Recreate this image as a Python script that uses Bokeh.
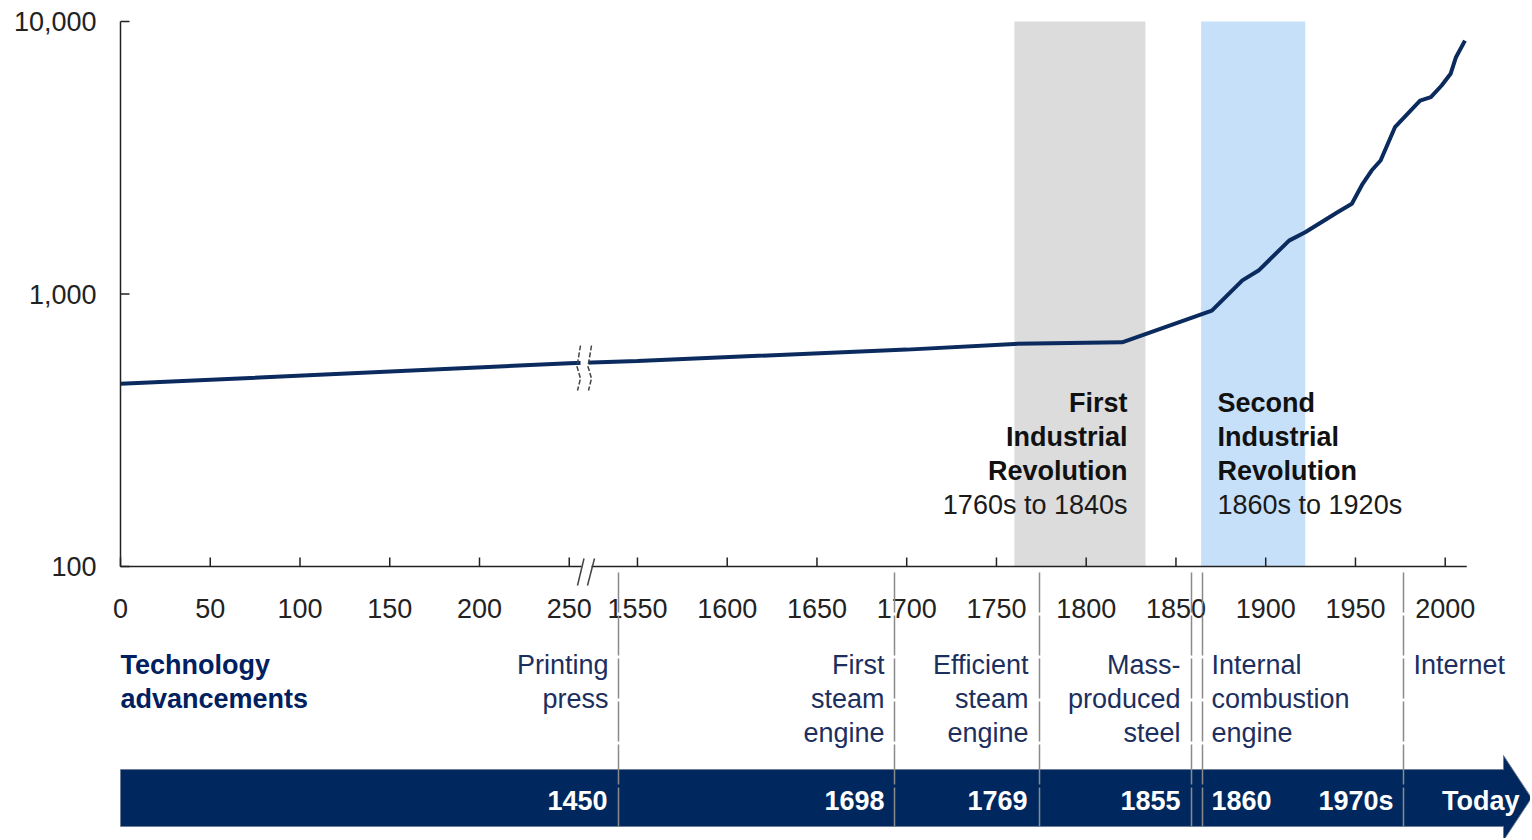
from bokeh.plotting import figure
from bokeh.models import Range1d, LinearScale
from bokeh.core.properties import value
from bokeh.embed import file_html
from bokeh.resources import INLINE

# ---------------- data ----------------
years = [0, 250, 1550, 1700, 1760, 1820, 1870, 1887, 1896, 1913, 1922, 1931, 1940,
         1948, 1954, 1959, 1964, 1972, 1979, 1986, 1992, 1998, 2003, 2006, 2011]
gdp = [468, 557, 568, 625, 656, 665, 869, 1122, 1219, 1570, 1686, 1834, 1995,
       2143, 2537, 2839, 3090, 4094, 4584, 5126, 5275, 5822, 6429, 7396, 8511]

tick_years = [0, 50, 100, 150, 200, 250, 1550, 1600, 1650, 1700, 1750, 1800, 1850, 1900, 1950, 2000]
tick_labels = [str(t) for t in tick_years]
y_ticks = [100, 1000, 10000]
y_tick_labels = [f"{v:,}" for v in y_ticks]

band_start = [1760, 1864]
band_end = [1833, 1922]
band_colors = ["#dcdcdc", "#c6e0f9"]

band_titles = [["First", "Industrial", "Revolution"], ["Second", "Industrial", "Revolution"]]
band_periods = ["1760s to 1840s", "1860s to 1920s"]

tech_header = ["Technology", "advancements"]
tech_lines = [
    ["Printing", "press"],
    ["First", "steam", "engine"],
    ["Efficient", "steam", "engine"],
    ["Mass-", "produced", "steel"],
    ["Internal", "combustion", "engine"],
    ["Internet"],
]
arrow_labels = ["1450", "1698", "1769", "1855", "1860", "1970s", "Today"]

# ---------------- broken axis mapping ----------------
SHIFT = 1262  # years >= 1550 are shifted left so the axis is broken after 250
X_END = 2012


def bx(y):
    return y if y < 1000 else y - SHIFT


FONT = value("Liberation Sans")
NAVY = "#0b2a5e"
TXT = "#222222"
TECH = "#1c2f5e"

W, H = 1530, 838
X0 = 120        # pixel position of axis value 0
PXU = 1.795     # pixels per axis unit
Y100 = 566      # pixel position of value 100
DEC = 272.5     # pixels per decade

ylo = 10 ** (2 - (H - Y100) / DEC)
yhi = 10 ** (2 + Y100 / DEC)

p = figure(width=W, height=H, title=None,
           x_range=Range1d(-X0 / PXU, (W - X0) / PXU),
           y_range=Range1d(ylo, yhi), y_axis_type="log",
           x_axis_location=None, y_axis_location=None,
           output_backend="svg", toolbar_location=None,
           min_border_left=0, min_border_right=0, min_border_top=0, min_border_bottom=0)
p.outline_line_color = None
p.grid.visible = False
p.background_fill_color = "white"

p.extra_x_ranges = {"px": Range1d(0, W)}
p.extra_x_scales = {"px": LinearScale()}
p.extra_y_ranges = {"py": Range1d(H, 0)}
p.extra_y_scales = {"py": LinearScale()}

# bands
p.quad(left=[bx(s) for s in band_start], right=[bx(e) for e in band_end],
       bottom=100, top=10000, fill_color=band_colors, line_color=None)

# data line
p.line(x=[bx(y) for y in years], y=gdp, line_color=NAVY, line_width=4)

# line break marks
p.quad(left=[580], right=[588], bottom=[352], top=[375], x_range_name="px", y_range_name="py",
       fill_color="white", line_color=None)
p.multi_line(xs=[[580, 576.5, 580, 577], [591, 587.5, 591, 588]],
             ys=[[345, 366, 378, 390], [345, 366, 378, 390]],
             x_range_name="px", y_range_name="py", line_color="#444444", line_width=1.5,
             line_dash="5 2")

# y axis (log)
p.segment(x0=[0], x1=[0], y0=[y_ticks[0]], y1=[y_ticks[-1]], line_color=TXT, line_width=1.5)
p.segment(x0=[0] * 3, x1=[9 / PXU] * 3, y0=y_ticks, y1=y_ticks, line_color=TXT, line_width=1.5)
p.text(x=[-24 / PXU] * 3, y=y_ticks, text=y_tick_labels, text_align="right",
       text_baseline="middle", text_font=FONT, text_font_size="27px", text_color=TXT)

# x axis (broken)
bl = (581 - X0) / PXU
br = (591 - X0) / PXU
p.segment(x0=[0, br], x1=[bl, bx(X_END)], y0=[Y100, Y100], y1=[Y100, Y100],
          y_range_name="py", line_color=TXT, line_width=1.5)
tx = [bx(t) for t in tick_years]
p.segment(x0=tx, x1=tx, y0=[Y100 - 9] * len(tx), y1=[Y100] * len(tx),
          y_range_name="py", line_color=TXT, line_width=1.5)
p.segment(x0=[577, 587], y0=[585, 585], x1=[583.5, 594], y1=[558, 558],
          x_range_name="px", y_range_name="py", line_color="#444444", line_width=1.5)
p.text(x=tx, y=[608] * len(tx), text=tick_labels, y_range_name="py",
       text_align="center", text_baseline="middle", text_font=FONT,
       text_font_size="27px", text_color=TXT)

# band labels
band_lx = [1127, 1217]
band_al = ["right", "left"]
rows = [402, 436, 470]
bxs, bys, bts, bal = [], [], [], []
for i, lines in enumerate(band_titles):
    for j, t in enumerate(lines):
        bxs.append(band_lx[i]); bys.append(rows[j]); bts.append(t); bal.append(band_al[i])
p.text(x=bxs, y=bys, text=bts, text_align=bal, x_range_name="px", y_range_name="py",
       text_baseline="middle", text_font=FONT, text_font_size="27px",
       text_font_style="bold", text_color="#111111")
p.text(x=band_lx, y=[504, 504], text=band_periods, text_align=band_al,
       x_range_name="px", y_range_name="py", text_baseline="middle", text_font=FONT,
       text_font_size="27px", text_color="#1a1a1a")

# arrow
p.patch(x=[120, 1503, 1503, 1531, 1503, 1503, 120],
        y=[769, 769, 755, 797.5, 840, 826, 826],
        x_range_name="px", y_range_name="py", fill_color="#00285e",
        line_color="#6f7d96", line_width=1)

# separators
sep_x = [618, 894, 1039, 1191, 1202, 1403]
p.segment(x0=sep_x, x1=sep_x, y0=[572] * len(sep_x), y1=[826] * len(sep_x),
          x_range_name="px", y_range_name="py", line_color="#8a8a8a",
          line_width=1.5, line_dash="40 3")

# technology labels
tech_x = [608, 884, 1028, 1180, 1211, 1413]
tech_al = ["right", "right", "right", "right", "left", "left"]
tl_rows = [664, 698, 732]
txs, tys, tts, tal = [], [], [], []
for i, lines in enumerate(tech_lines):
    for j, t in enumerate(lines):
        txs.append(tech_x[i]); tys.append(tl_rows[j]); tts.append(t); tal.append(tech_al[i])
p.text(x=txs, y=tys, text=tts, text_align=tal, x_range_name="px", y_range_name="py",
       text_baseline="middle", text_font=FONT, text_font_size="27px", text_color=TECH)
p.text(x=[120, 120], y=tl_rows[:2], text=tech_header, text_align="left",
       x_range_name="px", y_range_name="py", text_baseline="middle", text_font=FONT,
       text_font_size="27px", text_font_style="bold", text_color="#002060")

# arrow labels
ar_x = [607, 884, 1027, 1180, 1211, 1393, 1519]
ar_al = ["right", "right", "right", "right", "left", "right", "right"]
p.text(x=ar_x, y=[800] * len(ar_x), text=arrow_labels, text_align=ar_al,
       x_range_name="px", y_range_name="py", text_baseline="middle", text_font=FONT,
       text_font_size="27px", text_font_style="bold", text_color="white")

open("out.html", "w").write(file_html(p, INLINE))
